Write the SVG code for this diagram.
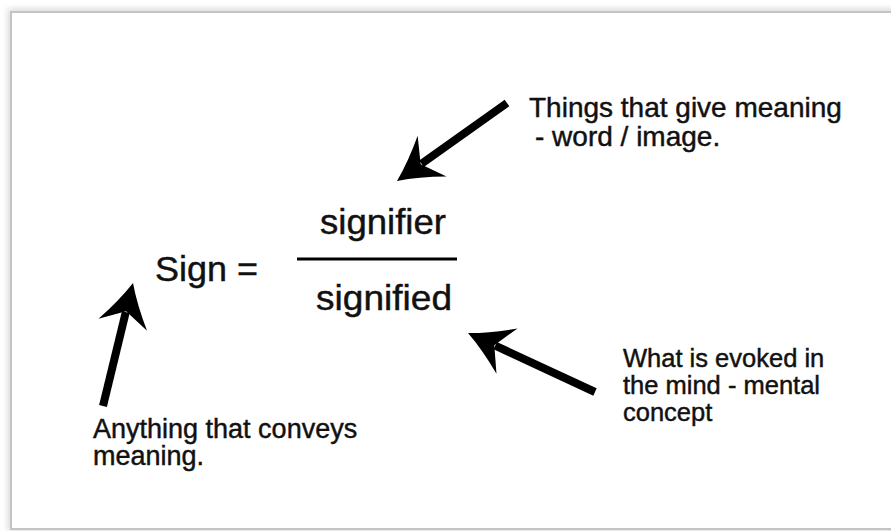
<svg xmlns="http://www.w3.org/2000/svg" width="891" height="531" viewBox="0 0 891 531">
  <defs>
    <style>
      .lbl { font-family: "Liberation Sans", Arial, Helvetica, sans-serif; fill: #111; stroke: #111; stroke-width: 0.45; }
      .big { font-size: 35px; }
      .note { font-size: 27px; }
      .shaft { stroke: #000; stroke-width: 8; fill: none; stroke-linecap: butt; }
      .head { fill: #000; }
    </style>
    <filter id="soft" x="-5%" y="-5%" width="110%" height="110%">
      <feGaussianBlur stdDeviation="3"/>
    </filter>
    <!-- swept arrowhead, tip at origin, pointing along +x -->
    <path id="head" class="head" d="M0,0 Q-20,-9 -43,-25 L-29,0 L-43,25 Q-20,9 0,0 Z"/>
  </defs>

  <rect width="891" height="531" fill="#ffffff"/>

  <!-- framed panel with soft shadow -->
  <g id="frame">
    <rect x="8" y="9" width="900" height="522" fill="#d8d8d8" filter="url(#soft)"/>
    <rect x="11" y="12" width="900" height="517" fill="#ffffff" stroke="#c4c4c4" stroke-width="2"/>
  </g>

  <!-- connectors -->
  <g id="connectors">
    <g id="arrow-signifier">
      <line class="shaft" x1="507" y1="103" x2="421.5" y2="163.7"/>
      <use href="#head" transform="translate(397,181) rotate(144.7)"/>
    </g>
    <g id="arrow-sign">
      <line class="shaft" x1="103" y1="406" x2="125.8" y2="312.1"/>
      <use href="#head" transform="translate(133,283) rotate(-76.2)"/>
    </g>
    <g id="arrow-signified">
      <line class="shaft" x1="595" y1="392" x2="495.2" y2="345.6"/>
      <use href="#head" transform="translate(468,333) rotate(-155.1)"/>
    </g>
  </g>

  <g id="sign">
    <text class="lbl big" x="155" y="281" textLength="103" lengthAdjust="spacingAndGlyphs">Sign =</text>
  </g>

  <g id="fraction">
    <text class="lbl big" x="320" y="234" textLength="126" lengthAdjust="spacingAndGlyphs">signifier</text>
    <line x1="297" y1="259" x2="457" y2="259" stroke="#000" stroke-width="3"/>
    <text class="lbl big" x="316" y="310" textLength="136" lengthAdjust="spacingAndGlyphs">signified</text>
  </g>

  <g id="note-signifier">
    <text class="lbl note" x="529" y="117" style="font-size:28px">Things that give meaning</text>
    <text class="lbl note" x="535" y="146" style="font-size:28px">- word / image.</text>
  </g>

  <g id="note-signified">
    <text class="lbl note" x="623" y="367" style="font-size:25.5px">What is evoked in</text>
    <text class="lbl note" x="623" y="394" style="font-size:25.5px">the mind - mental</text>
    <text class="lbl note" x="623" y="421" style="font-size:25.5px">concept</text>
  </g>

  <g id="note-sign">
    <text class="lbl note" x="93" y="438">Anything that conveys</text>
    <text class="lbl note" x="93" y="465">meaning.</text>
  </g>
</svg>
